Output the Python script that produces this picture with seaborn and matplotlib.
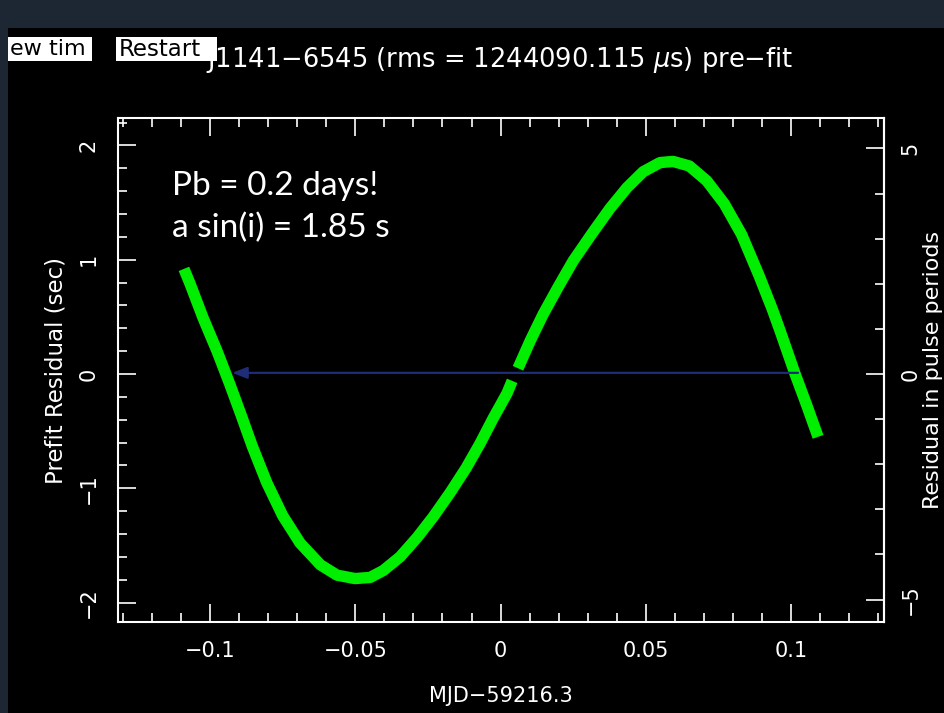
import matplotlib
matplotlib.use("Agg")
import matplotlib.pyplot as plt
import seaborn as sns
import pandas as pd
from matplotlib.ticker import MultipleLocator, FixedLocator
from matplotlib.patches import Rectangle

# ---- data ----
mjd_offset_seg1 = [-0.1090, -0.1069, -0.1024, -0.0976, -0.0932, -0.0893, -0.0855,
                   -0.0805, -0.0750, -0.0690, -0.0620, -0.0563, -0.0501, -0.0449,
                   -0.0404, -0.0346, -0.0287, -0.0232, -0.0174, -0.0118, -0.0071,
                   -0.0026, 0.0022, 0.0040]
residual_seg1 = [0.92, 0.79, 0.49, 0.20, -0.09, -0.36, -0.63,
                 -0.95, -1.24, -1.48, -1.67, -1.76, -1.79, -1.78,
                 -1.72, -1.60, -1.43, -1.25, -1.04, -0.82, -0.61,
                 -0.39, -0.17, -0.06]
mjd_offset_seg2 = [0.0060, 0.0102, 0.0146, 0.0198, 0.0250, 0.0315, 0.0377,
                   0.0435, 0.0491, 0.0549, 0.0594, 0.0650, 0.0710, 0.0770,
                   0.0830, 0.0890, 0.0935, 0.0962, 0.1014, 0.1055, 0.1076, 0.1093]
residual_seg2 = [0.05, 0.29, 0.52, 0.76, 0.99, 1.23, 1.45,
                 1.63, 1.77, 1.85, 1.86, 1.82, 1.69, 1.49,
                 1.22, 0.86, 0.57, 0.38, 0.0, -0.28, -0.43, -0.55]

x_ticks = [-0.1, -0.05, 0, 0.05, 0.1]
x_ticklabels = ["\u22120.1", "\u22120.05", "0", "0.05", "0.1"]
y_ticks = [-2, -1, 0, 1, 2]
y_ticklabels = ["\u22122", "\u22121", "0", "1", "2"]
p_ticks = [-5, 0, 5]
p_ticklabels = ["\u22125", "0", "5"]
periods_per_sec = 2.533
arrow_from = (0.1024, 0.01)
arrow_to = (-0.0924, 0.01)

title = "J1141\u22126545 (rms = 1244090.115 $\\mu$s) pre\u2212fit"
note1 = "Pb = 0.2 days!"
note2 = "a sin(i) = 1.85 s"

df = pd.concat([
    pd.DataFrame({"x": mjd_offset_seg1, "y": residual_seg1, "seg": 1}),
    pd.DataFrame({"x": mjd_offset_seg2, "y": residual_seg2, "seg": 2}),
])

sns.set_style("ticks")
plt.rcParams["font.family"] = ["DejaVu Sans"]

W, H = 945, 713
fig = plt.figure(figsize=(W / 100, H / 100), dpi=100)
fig.patch.set_facecolor("#1d2734")
fig.add_artist(Rectangle((8 / W, 0), 1 - 8 / W, 1 - 28 / H, transform=fig.transFigure,
                         facecolor="black", edgecolor="none", zorder=0))

ax = fig.add_axes([118 / W, 1 - 622 / H, (884 - 118) / W, (622 - 118) / H])
ax.set_facecolor("black")

sns.lineplot(data=df, x="x", y="y", units="seg", estimator=None, sort=False,
             color="#00ee00", linewidth=8.2, ax=ax, legend=False,
             solid_capstyle="butt", solid_joinstyle="round")

ax.annotate("", xy=arrow_to, xytext=arrow_from,
            arrowprops=dict(arrowstyle="-|>,head_length=0.9,head_width=0.35",
                            color="#1f2c78", lw=1.6, shrinkA=0, shrinkB=0), zorder=5)

ax.set_xlim(-0.1317, 0.132)
ax.set_ylim(-2.17, 2.24)

for sp in ax.spines.values():
    sp.set_color("white")
    sp.set_linewidth(1.5)
    sp.set_visible(True)

ax.xaxis.set_major_locator(FixedLocator(x_ticks))
ax.set_xticklabels(x_ticklabels)
ax.xaxis.set_minor_locator(MultipleLocator(0.01))
ax.yaxis.set_major_locator(FixedLocator(y_ticks))
ax.set_yticklabels(y_ticklabels)
ax.yaxis.set_minor_locator(MultipleLocator(0.2))

ax.tick_params(which="both", direction="in", colors="white", top=True, right=False,
               width=1.2, labelsize=15)
ax.tick_params(which="major", length=13)
ax.tick_params(which="minor", length=6.5)
ax.tick_params(axis="x", pad=14)
ax.tick_params(axis="y", pad=14, labelrotation=90)
for lab in ax.get_yticklabels():
    lab.set_va("center")

ax.set_xlabel("MJD\u221259216.3", color="white", fontsize=15, labelpad=18)
ax.set_ylabel("Prefit Residual (sec)", color="white", fontsize=16.5, labelpad=8)

sec = ax.secondary_yaxis("right", functions=(lambda y: y * periods_per_sec,
                                             lambda p: p / periods_per_sec))
sec.spines["right"].set_color("white")
sec.spines["right"].set_linewidth(1.5)
sec.yaxis.set_major_locator(FixedLocator(p_ticks))
sec.set_yticklabels(p_ticklabels)
sec.yaxis.set_minor_locator(MultipleLocator(1))
sec.tick_params(which="both", direction="in", colors="white", width=1.2, labelsize=15)
sec.tick_params(which="major", length=13)
sec.tick_params(which="minor", length=6.5)
sec.tick_params(axis="y", pad=12, labelrotation=90)
for lab in sec.get_yticklabels():
    lab.set_va("center")
sec.set_ylabel("Residual in pulse periods", color="white", fontsize=16, labelpad=2)

fig.text(500 / W, 1 - 60 / H, title, color="white", fontsize=18.5, ha="center",
         va="center", zorder=2)

# buttons
fig.add_artist(Rectangle((8 / W, 1 - 61 / H), 84 / W, 24 / H, transform=fig.transFigure,
                         facecolor="white", edgecolor="none", zorder=3))
fig.text(10 / W, 1 - 49 / H, "ew tim", color="black", fontsize=16, ha="left",
         va="center", zorder=4)
fig.add_artist(Rectangle((116 / W, 1 - 61 / H), 101 / W, 24 / H, transform=fig.transFigure,
                         facecolor="white", edgecolor="none", zorder=3))
fig.text(119 / W, 1 - 49 / H, "Restart", color="black", fontsize=16.5, ha="left",
         va="center", zorder=4)

fig.text(172 / W, 1 - 195 / H, note1, color="white", fontsize=24, family="Lato",
         ha="left", va="baseline")
fig.text(172 / W, 1 - 237 / H, note2, color="white", fontsize=24, family="Lato",
         ha="left", va="baseline")

fig.savefig("out.png", dpi=100, facecolor=fig.get_facecolor())
